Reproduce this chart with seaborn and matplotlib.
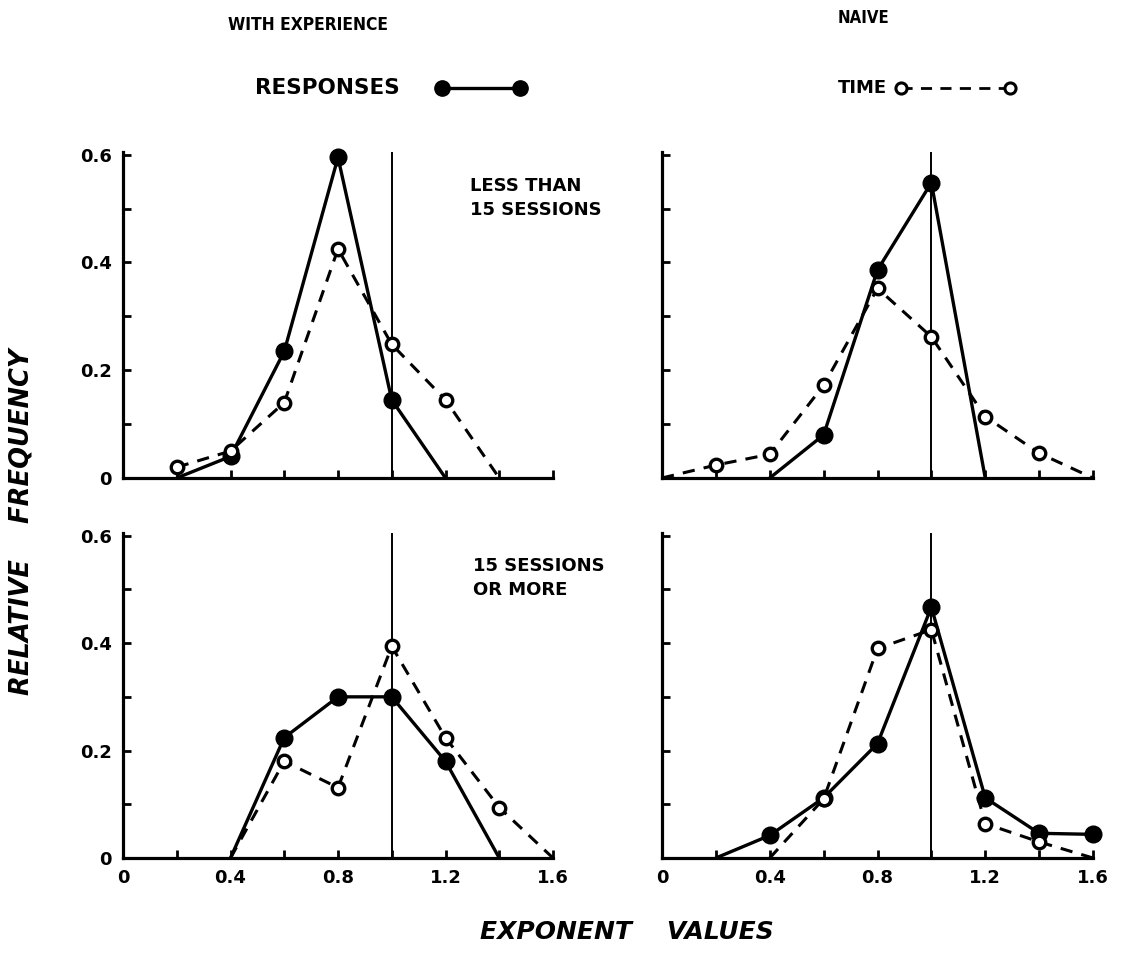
import numpy as np
import pandas as pd
import matplotlib
matplotlib.use("Agg")
import matplotlib.pyplot as plt
from matplotlib.lines import Line2D
from matplotlib.ticker import FixedLocator, FixedFormatter
import seaborn as sns

# Exponent bins along the x axis
exponent = [0.0, 0.2, 0.4, 0.6, 0.8, 1.0, 1.2, 1.4, 1.6]
nan = np.nan

# Relative frequencies (nan = no point drawn)
exp_lt15_responses = [nan, 0.0, 0.04, 0.235, 0.595, 0.145, 0.0, nan, nan]
exp_lt15_time      = [nan, 0.02, 0.05, 0.14, 0.425, 0.248, 0.145, 0.0, nan]
naive_lt15_responses = [nan, nan, 0.0, 0.08, 0.386, 0.548, 0.0, nan, nan]
naive_lt15_time      = [0.0, 0.024, 0.044, 0.172, 0.352, 0.262, 0.114, 0.046, 0.0]
exp_ge15_responses = [nan, nan, 0.0, 0.224, 0.30, 0.30, 0.18, 0.0, nan]
exp_ge15_time      = [nan, nan, 0.0, 0.18, 0.131, 0.394, 0.224, 0.094, 0.0]
naive_ge15_responses = [nan, 0.0, 0.042, 0.112, 0.213, 0.467, 0.112, 0.046, 0.044]
naive_ge15_time      = [nan, nan, 0.0, 0.11, 0.39, 0.425, 0.064, 0.03, 0.0]

col_titles = ["WITH EXPERIENCE", "NAIVE"]
row_notes = ["LESS THAN\n15 SESSIONS", "15 SESSIONS\nOR MORE"]
x_tick_labels = ["0", "0.4", "0.8", "1.2", "1.6"]
y_tick_labels = ["0", "0.2", "0.4", "0.6"]

panels = [
    [(exp_lt15_responses, exp_lt15_time), (naive_lt15_responses, naive_lt15_time)],
    [(exp_ge15_responses, exp_ge15_time), (naive_ge15_responses, naive_ge15_time)],
]

sns.set_style("ticks")
plt.rcParams["font.family"] = ["DejaVu Sans"]
plt.rcParams["text.color"] = "black"
plt.rcParams["axes.labelcolor"] = "black"
plt.rcParams["xtick.color"] = "black"
plt.rcParams["ytick.color"] = "black"
plt.rcParams["axes.edgecolor"] = "black"

W, H = 1123, 971
fig = plt.figure(figsize=(W / 100, H / 100), dpi=100)

col_px = [(123, 553), (662, 1093)]
row_px = [(152, 478), (533, 858)]

SPINE_W = 2.3
for r in range(2):
    for c in range(2):
        x0, x1 = col_px[c]
        y0, y1 = row_px[r]
        ax = fig.add_axes([x0 / W, 1 - y1 / H, (x1 - x0) / W, (y1 - y0) / H])
        resp, tm = panels[r][c]
        df = pd.DataFrame({"x": exponent, "resp": resp, "time": tm})

        # Reference line at exponent 1.0
        ax.axvline(1.0, color="black", lw=1.4, zorder=1)

        d_r = df.dropna(subset=["resp"])
        d_t = df.dropna(subset=["time"])
        sns.lineplot(data=d_r, x="x", y="resp", ax=ax, color="black", lw=2.4,
                     estimator=None, sort=False, zorder=2)
        sns.lineplot(data=d_t, x="x", y="time", ax=ax, color="black", lw=2.2,
                     estimator=None, sort=False, zorder=2)
        ax.lines[-1].set_dashes([4, 3])
        m_r = d_r[d_r["resp"] > 0]
        m_t = d_t[d_t["time"] > 0]
        ax.plot(m_r["x"], m_r["resp"], "o", ms=12, color="black", zorder=3,
                clip_on=False)
        ax.plot(m_t["x"], m_t["time"], "o", ms=9, mfc="white", mec="black",
                mew=2.4, zorder=4, clip_on=False)

        ax.set_xlim(0, 1.6)
        ax.set_ylim(0, 0.605)
        ax.set_xlabel("")
        ax.set_ylabel("")
        for s in ["top", "right"]:
            ax.spines[s].set_visible(False)
        for s in ["left", "bottom"]:
            ax.spines[s].set_linewidth(SPINE_W)

        ax.xaxis.set_major_locator(FixedLocator([0, 0.4, 0.8, 1.2, 1.6]))
        ax.xaxis.set_minor_locator(FixedLocator([0.2, 0.6, 1.0, 1.4]))
        ax.yaxis.set_major_locator(FixedLocator([0, 0.2, 0.4, 0.6]))
        ax.yaxis.set_minor_locator(FixedLocator([0.1, 0.3, 0.5]))
        ax.tick_params(which="both", direction="in", length=6, width=2,
                       labelsize=13)
        if r == 1:
            ax.xaxis.set_major_formatter(FixedFormatter(x_tick_labels))
            ax.tick_params(axis="x", pad=8)
        else:
            ax.tick_params(axis="x", labelbottom=False)
        if c == 0:
            ax.yaxis.set_major_formatter(FixedFormatter(y_tick_labels))
            ax.tick_params(axis="y", pad=8)
        else:
            ax.tick_params(axis="y", labelleft=False)
        for lab in ax.get_xticklabels() + ax.get_yticklabels():
            lab.set_fontweight("bold")

# Column headings (condensed lettering)
fig.text(228 / W, 1 - 25 / H, col_titles[0], fontsize=12.5, fontweight="bold",
         fontstretch="condensed", va="center", ha="left")
fig.text(838 / W, 1 - 18 / H, col_titles[1], fontsize=12, fontweight="bold",
         fontstretch="condensed", va="center", ha="left")

# Key
fig.text(255 / W, 1 - 88 / H, "RESPONSES", fontsize=15.5, fontweight="bold",
         va="center", ha="left")
fig.add_artist(Line2D([442 / W, 520 / W], [1 - 88 / H] * 2, transform=fig.transFigure,
                      color="black", lw=2.4, marker="o", ms=11))
fig.text(838 / W, 1 - 88 / H, "TIME", fontsize=13, fontweight="bold",
         va="center", ha="left")
fig.add_artist(Line2D([901 / W, 1010 / W], [1 - 88 / H] * 2, transform=fig.transFigure,
                      color="black", lw=2.0, dashes=[4, 3], marker="o", ms=8,
                      mfc="white", mec="black", mew=2.2))

# Session notes
fig.text(470 / W, 1 - 198 / H, row_notes[0], fontsize=13, fontweight="bold",
         va="center", ha="left", linespacing=1.45)
fig.text(473 / W, 1 - 578 / H, row_notes[1], fontsize=13, fontweight="bold",
         va="center", ha="left", linespacing=1.45)

# Axis titles
fig.text(22 / W, 1 - 522 / H, "RELATIVE    FREQUENCY", rotation=90, fontsize=18.5,
         fontweight="bold", fontstyle="italic", va="center", ha="center")
fig.text(627 / W, 1 - 932 / H, "EXPONENT    VALUES", fontsize=18,
         fontweight="bold", fontstyle="italic", va="center", ha="center")

fig.savefig("out.png", dpi=100)
